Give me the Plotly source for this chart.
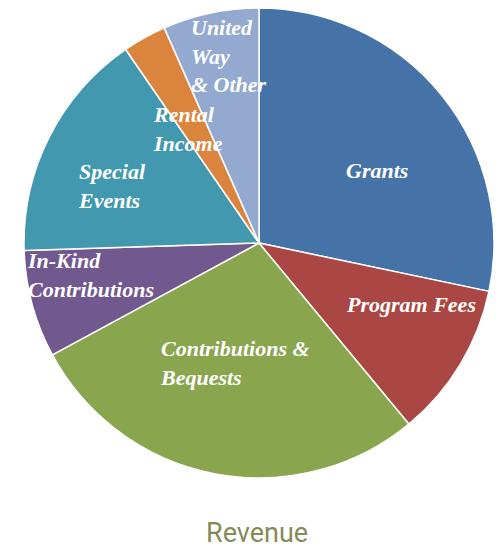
import plotly.graph_objects as go

# ---- data ----
categories = ["Grants", "Program Fees", "Contributions & Bequests", "In-Kind Contributions",
              "Special Events", "Rental Income", "United Way & Other"]
values = [28.3, 10.7, 28.1, 7.4, 15.9, 3.0, 6.6]
label_texts = ["Grants", "Program Fees", "Contributions &amp;<br>Bequests", "In-Kind<br>Contributions",
               "Special<br>Events", "Rental<br>Income", "United<br>Way<br>&amp; Other"]
colors = ["#4572A7", "#AA4643", "#89A54E", "#71588F", "#4198AF", "#DB843D", "#93A9CF"]
title_text = "Revenue"

# page body has an 8px margin; figure drawn in a 494x540 box offset by 8px
OFF = 8
W, H = 494, 540
cx, cy, r = 259, 243, 235

def px(x):
    return (x - OFF) / W

def py(y):
    return 1 - (y - OFF) / H

def clamp(v):
    return min(1.0, max(0.0, v))

fig = go.Figure(go.Pie(
    labels=categories,
    values=values,
    sort=False,
    direction="clockwise",
    rotation=0,
    textinfo="none",
    hoverinfo="label+percent",
    marker=dict(colors=colors, line=dict(color="white", width=1.5)),
    domain=dict(x=[clamp(px(cx - r)), clamp(px(cx + r))],
                y=[clamp(py(cy + r)), clamp(py(cy - r))]),
    showlegend=False,
))

# label anchor positions (pixels: x, top y, alignment)
label_pos = [(377, 156, "center"), (344, 290, "left"), (158, 334, "left"), (25, 246, "left"),
             (76, 157, "left"), (151, 100, "left"), (189, 13, "left")]

annotations = []
for txt, (x, y, al) in zip(label_texts, label_pos):
    annotations.append(dict(
        text=txt, x=px(x), y=py(y), xref="paper", yref="paper",
        xanchor=al, yanchor="top", align=al, showarrow=False,
        font=dict(family="Liberation Serif, DejaVu Serif, serif", size=22, color="white",
                  style="italic", weight="bold"),
    ))
annotations.append(dict(
    text=title_text, x=px(257), y=py(533), xref="paper", yref="paper",
    xanchor="center", yanchor="middle", showarrow=False,
    font=dict(family="Liberation Sans Narrow, Roboto, Liberation Sans, sans-serif", size=27,
              color="#868A58"),
))

fig.update_layout(
    width=W, height=H,
    margin=dict(l=0, r=0, t=0, b=0),
    paper_bgcolor="white", plot_bgcolor="white",
    annotations=annotations,
)

fig.write_html("out.html")
